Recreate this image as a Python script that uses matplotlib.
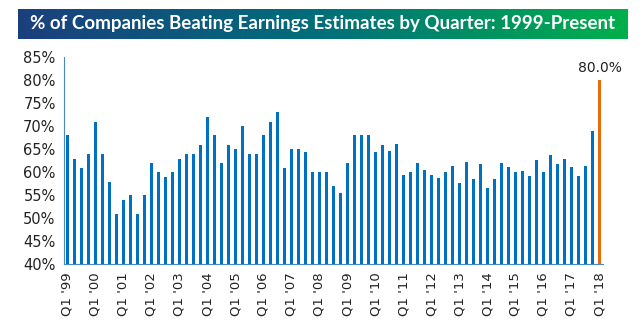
import numpy as np
import matplotlib.pyplot as plt
from matplotlib.colors import LinearSegmentedColormap

# Quarterly share of companies beating earnings estimates, Q1 1999 - Q1 2018
beat_pct = [
    68.1, 62.9, 60.9, 63.9,   # 1999
    70.9, 63.9, 57.9, 50.9,   # 2000
    53.9, 55.0, 50.9, 55.0,   # 2001
    62.0, 60.0, 58.9, 60.0,   # 2002
    62.9, 63.9, 63.9, 65.9,   # 2003
    72.0, 68.1, 62.0, 65.9,   # 2004
    65.0, 70.0, 63.9, 63.9,   # 2005
    68.1, 70.9, 73.1, 60.9,   # 2006
    65.0, 65.0, 64.4, 60.0,   # 2007
    60.0, 60.0, 57.0, 55.5,   # 2008
    62.0, 68.1, 68.1, 68.1,   # 2009
    64.4, 65.9, 64.6, 66.1,   # 2010
    59.4, 60.0, 62.0, 60.5,   # 2011
    59.4, 58.7, 60.0, 61.3,   # 2012
    57.6, 62.2, 58.5, 61.8,   # 2013
    56.5, 58.5, 62.0, 61.1,   # 2014
    60.0, 60.2, 59.2, 62.6,   # 2015
    60.0, 63.7, 61.8, 62.9,   # 2016
    61.1, 59.2, 61.3, 69.0,   # 2017
    80.0,                     # 2018
]
years = ["'99", "'00", "'01", "'02", "'03", "'04", "'05", "'06", "'07", "'08",
         "'09", "'10", "'11", "'12", "'13", "'14", "'15", "'16", "'17", "'18"]
tick_labels = ["Q1 " + y for y in years]

blue = "#0070c0"
orange = "#e46c0a"

fig = plt.figure(figsize=(6.43, 3.23), dpi=100)

# gradient title banner
tax = fig.add_axes([18 / 643, 1 - 39 / 323, 610 / 643, 30 / 323])
cmap = LinearSegmentedColormap.from_list("banner", ["#1b3f7e", "#006f7a", "#00b04c"])
tax.imshow(np.linspace(0, 1, 256)[None, :], aspect="auto", cmap=cmap, extent=[0, 1, 0, 1])
tax.set_axis_off()
tax.text(0.5, 0.5, "% of Companies Beating Earnings Estimates by Quarter: 1999-Present",
         color="white", fontsize=13.5, fontweight="bold", family="Lato",
         ha="center", va="center", transform=tax.transAxes)

ax = fig.add_axes([64 / 643, 59 / 323, 539 / 643, 207 / 323])
x = np.arange(len(beat_pct))
colors = [blue] * (len(beat_pct) - 1) + [orange]
ax.bar(x, np.array(beat_pct) - 40, bottom=40, width=0.42, color=colors)
ax.text(x[-1], beat_pct[-1] + 1.0, f"{beat_pct[-1]:.1f}%", ha="center", va="bottom",
        fontsize=10, color="#222222")

ax.set_ylim(40, 85)
ax.set_xlim(-0.5, len(beat_pct) - 0.5)
ax.set_yticks(range(40, 86, 5))
ax.set_yticklabels([f"{v}%" for v in range(40, 86, 5)], fontsize=10.5, color="#222222")
ax.set_xticks(x[::4])
ax.set_xticklabels(tick_labels, rotation=90, fontsize=9.5, color="#222222")
ax.tick_params(length=0, pad=6)
for side in ["top", "right"]:
    ax.spines[side].set_visible(False)
ax.spines["left"].set_color("#4a86c8")
ax.spines["bottom"].set_color("#4a86c8")

fig.savefig("out.png", dpi=100)
